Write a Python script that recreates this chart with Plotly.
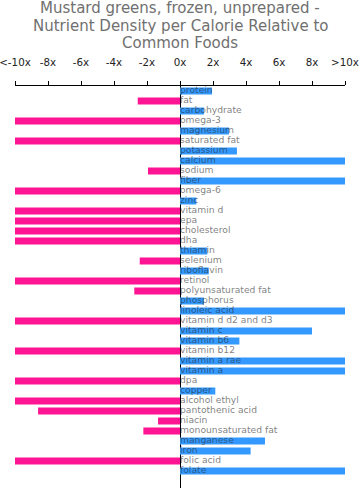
import plotly.graph_objects as go

nutrients = ["protein", "fat", "carbohydrate", "omega-3", "magnesium", "saturated fat",
             "potassium", "calcium", "sodium", "fiber", "omega-6", "zinc", "vitamin d",
             "epa", "cholesterol", "dha", "thiamin", "selenium", "riboflavin", "retinol",
             "polyunsaturated fat", "phosphorus", "linoleic acid", "vitamin d d2 and d3",
             "vitamin c", "vitamin b6", "vitamin b12", "vitamin a rae", "vitamin a", "dpa",
             "copper", "alcohol ethyl", "pantothenic acid", "niacin", "monounsaturated fat",
             "manganese", "iron", "folic acid", "folate"]
values = [1.94, -2.56, 1.45, -10, 2.97, -10,
          3.45, 10, -1.94, 10, -10, 0.99, -10,
          -10, -10, -10, 1.66, -2.44, 1.74, -10,
          -2.77, 1.45, 10, -10,
          8.0, 3.6, -10, 10, 10, -10,
          2.14, -10, -8.6, -1.33, -2.22,
          5.15, 4.28, -10, 10]
tick_vals = [-10, -8, -6, -4, -2, 0, 2, 4, 6, 8, 10]
tick_text = ["<-10x", "-8x", "-6x", "-4x", "-2x", "0x", "2x", "4x", "6x", "8x", ">10x"]
title_lines = ["Mustard greens, frozen, unprepared -",
               "Nutrient Density per Calorie Relative to",
               "Common Foods"]

W, H = 360, 498
M_L, M_R, M_T, M_B = 15, 15, 86, 10
plot_h = H - M_T - M_B
n = len(nutrients)

colors = ["#3399ff" if v > 0 else "#ff1493" for v in values]

fig = go.Figure()
fig.add_trace(go.Bar(
    x=values, y=nutrients, orientation="h", marker=dict(color=colors, line=dict(width=0)),
    showlegend=False, hoverinfo="x+y",
))
# labels drawn over the bars, semi-transparent so they tint on the blue bars
fig.add_trace(go.Scatter(
    x=[0] * n, y=nutrients, mode="text", text=nutrients,
    textposition="middle right",
    textfont=dict(family="DejaVu Sans", size=9.2, color="rgba(40,40,40,0.6)"),
    hoverinfo="skip", showlegend=False,
))

fig.update_layout(
    width=W, height=H,
    margin=dict(l=M_L, r=M_R, t=M_T, b=M_B, pad=0, autoexpand=False),
    paper_bgcolor="white", plot_bgcolor="white",
    bargap=0.3,
    xaxis=dict(range=[-10, 10], side="top", tickmode="array", tickvals=tick_vals,
               ticktext=tick_text, ticks="outside", ticklen=4, tickcolor="#000",
               showline=True, linecolor="#000", linewidth=1, showgrid=False,
               zeroline=True, zerolinecolor="#000", zerolinewidth=1,
               tickfont=dict(family="DejaVu Sans", size=10.3, color="#222"),
               ticklabelstandoff=11, ticklabeloverflow="allow", automargin=False,
               fixedrange=True),
    yaxis=dict(type="category", categoryorder="array", categoryarray=nutrients,
               range=[n - 1 + 1.7, -0.5], showticklabels=False, showgrid=False,
               zeroline=False, showline=False, ticks="", fixedrange=True,
               automargin=False),
)

for line, py in zip(title_lines, [8.0, 25.5, 43.0]):
    fig.add_annotation(text=line, xref="paper", yref="paper", x=0.5,
                       y=1 + (M_T - py) / plot_h, xanchor="center", yanchor="middle",
                       showarrow=False,
                       font=dict(family="DejaVu Sans", size=15, color="#707070"))

fig.write_html("out.html", config={"displayModeBar": False},
               post_script="document.body.style.margin='0';")
